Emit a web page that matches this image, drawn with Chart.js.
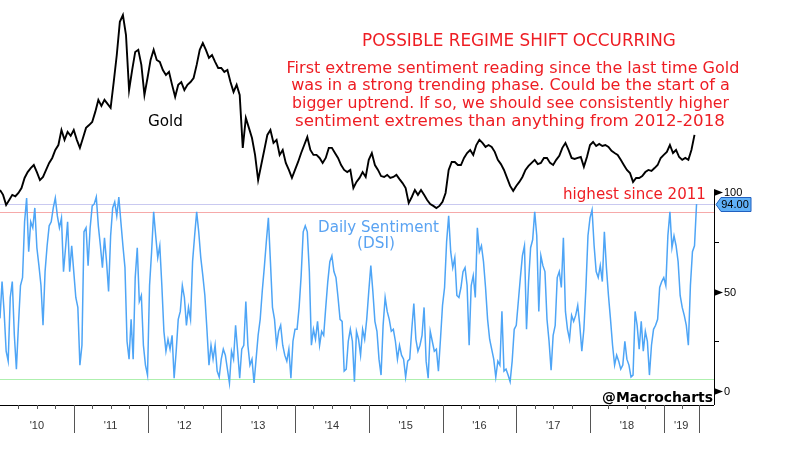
<!DOCTYPE html>
<html>
<head>
<meta charset="utf-8">
<script src="https://cdn.jsdelivr.net/npm/chart.js@4.4.1/dist/chart.umd.min.js"></script>
<style>
	html, body { margin: 0; padding: 0; background: #ffffff; }
</style>
</head>
<body>
<canvas id="grafico" width="800" height="450"></canvas>
<script>
// oro: dos lecturas por mes desde enero 2010
const goldStart = 2010;
const goldPerYear = 24;
const gold = [
	1147, 1126, 1083, 1104, 1126, 1120, 1134, 1155, 1198, 1223, 1240, 1253, 1223, 1189, 1202, 1232, 1262, 1283, 1317, 1338, 1402, 1360, 1394, 1377,
	1402, 1360, 1326, 1368, 1411, 1423, 1436, 1479, 1530, 1504, 1530, 1513, 1496, 1606, 1721, 1862, 1891, 1806, 1572, 1657, 1734, 1743, 1679, 1551,
	1623, 1700, 1743, 1700, 1692, 1657, 1636, 1649, 1594, 1543, 1594, 1606, 1572, 1594, 1606, 1623, 1679, 1743, 1772, 1743, 1709, 1721, 1692, 1666,
	1666, 1649, 1657, 1606, 1564, 1594, 1551, 1326, 1453, 1411, 1368, 1296, 1189, 1253, 1317, 1381, 1402, 1347, 1360, 1296, 1317, 1262, 1232, 1198,
	1232, 1266, 1304, 1338, 1372, 1317, 1296, 1296, 1283, 1262, 1283, 1326, 1326, 1304, 1283, 1253, 1232, 1223, 1232, 1155, 1181, 1198, 1223, 1202,
	1275, 1304, 1253, 1232, 1206, 1202, 1211, 1198, 1202, 1211, 1193, 1176, 1155, 1092, 1117, 1147, 1126, 1147, 1126, 1104, 1087, 1079, 1070, 1079,
	1096, 1134, 1232, 1266, 1266, 1253, 1253, 1283, 1304, 1317, 1296, 1338, 1360, 1347, 1330, 1338, 1330, 1309, 1275, 1257, 1232, 1198, 1164, 1143,
	1164, 1181, 1202, 1232, 1249, 1262, 1275, 1257, 1262, 1283, 1283, 1262, 1253, 1275, 1292, 1326, 1347, 1317, 1283, 1279, 1283, 1287, 1245, 1287,
	1338, 1351, 1334, 1343, 1334, 1338, 1330, 1313, 1304, 1296, 1275, 1253, 1232, 1219, 1181, 1198, 1198, 1206, 1223, 1232, 1228, 1240, 1253, 1283,
	1296, 1309, 1338, 1304, 1317, 1287, 1275, 1283, 1275, 1317, 1381,
];

// sentimiento diario (DSI): tres lecturas por mes
const dsiStart = 2010;
const dsiPerYear = 36;
const dsi = [
	36.5, 55, 40, 20, 15, 47, 55, 28, 11, 33, 53, 57,
	85, 97, 70, 85, 82, 92, 72, 63, 53, 33, 60, 73,
	83, 85, 92, 97, 88, 82, 87, 60, 72, 85, 60, 73,
	60, 47, 42, 13, 23, 80, 82, 63, 82, 93, 94, 97.5,
	83, 73, 62, 77, 65, 50, 78, 92, 95, 88, 97.5, 85,
	73, 62, 25, 16, 36, 16, 57, 72, 45, 48, 23, 13,
	8, 53, 70, 90, 78, 67, 73, 53, 30, 20, 26, 21,
	28, 6.4, 20, 36, 40, 53, 47, 33, 42, 36, 65, 78,
	90, 80, 67, 58, 48, 31, 13, 23, 16, 23, 10, 7,
	16, 21, 18, 11, 4, 20, 16, 33, 20, 6.4, 21, 23,
	45, 23, 13, 16, 4, 16, 28, 36, 50, 62, 75, 87,
	65, 42, 36, 23, 30, 33, 23, 18, 15, 21, 6.4, 25,
	31, 31, 42, 58, 80, 83, 80, 60, 23, 31, 26, 35,
	23, 30, 28, 42, 55, 65, 68, 60, 57, 47, 36, 35,
	10, 11, 25, 31, 25, 4.7, 30, 26, 18, 31, 26, 36,
	50, 63, 50, 35, 30, 16, 8, 33, 47, 40, 36, 30,
	31, 25, 16, 23, 18, 16, 7, 15, 16, 31, 44, 26,
	20, 23, 28, 42, 15, 6.4, 30, 25, 20, 21, 10, 26,
	43, 52, 75, 88, 70, 62, 67, 48, 47, 52, 60, 62,
	53, 23, 53, 58, 47, 82, 70, 73, 65, 52, 36, 26,
	21, 16, 7, 15, 13, 40, 10, 11, 8, 4.7, 15, 31,
	33, 45, 57, 68, 73, 31, 55, 72, 76, 90, 78, 40,
	68, 63, 60, 36, 25, 10.5, 28, 33, 57, 60, 52, 77,
	40, 31, 26, 38, 35, 38, 43, 33, 20, 31, 52, 78,
	87, 91, 73, 60, 57, 63, 55, 80, 62, 48, 36, 23,
	13, 18, 15, 11, 13, 25, 16, 13, 7, 8, 40, 33,
	21, 35, 20, 30, 25, 8, 23, 31, 33, 36, 52, 55,
	57, 53, 78, 90, 72, 78, 73, 65, 48, 42, 38, 33,
	23, 53, 70, 73, 94,
];

const yearStarts = [2010, 2011, 2012, 2013, 2014, 2015, 2016, 2017, 2018, 2019];
const yearLabels = ["'10", "'11", "'12", "'13", "'14", "'15", "'16", "'17", "'18", "'19"];
const dataEnd = 2019.475;
const dsiTicks = [0, 25, 50, 75, 100];
const dsiTickLabels = ["0", "", "50", "", "100"];
const dsiLevels = [94, 90, 6];
const dsiLevelColors = ["#c9c9f0", "#f6a9a9", "#aef0ae"];
const lastDsi = 94;

const rojo = "#ee1d23";
const fuente = '"DejaVu Sans"';

// texto centrado ajustado al ancho medido en la imagen
const texto = (ctx, t, cx, base, ancho, color, negrita) => {
	const peso = negrita ? "bold " : "";
	ctx.font = `${peso}20px ${fuente}`;
	const size = (20 * ancho) / ctx.measureText(t).width;
	ctx.font = `${peso}${size.toFixed(2)}px ${fuente}`;
	ctx.fillStyle = color;
	ctx.textAlign = "center";
	ctx.textBaseline = "alphabetic";
	ctx.fillText(t, cx, base);
};

const decorado = {
	id: "decorado",
	beforeDatasetsDraw(chart) {
		const { ctx, chartArea } = chart;
		const yd = chart.scales.yDsi;
		ctx.save();
		ctx.lineWidth = 1;
		dsiLevels.forEach((nivel, i) => {
			const y = Math.round(yd.getPixelForValue(nivel)) + 0.5;
			ctx.strokeStyle = dsiLevelColors[i];
			ctx.beginPath();
			ctx.moveTo(chartArea.left, y);
			ctx.lineTo(chartArea.right, y);
			ctx.stroke();
		});
		ctx.restore();
	},
	afterDraw(chart) {
		const { ctx, chartArea } = chart;
		const xs = chart.scales.x;
		const yd = chart.scales.yDsi;
		const fondo = chartArea.bottom;
		const der = chartArea.right;
		ctx.save();

		// eje x
		ctx.strokeStyle = "#000";
		ctx.lineWidth = 1;
		ctx.beginPath();
		ctx.moveTo(chartArea.left, fondo + 0.5);
		ctx.lineTo(der, fondo + 0.5);
		ctx.stroke();

		ctx.strokeStyle = "#555";
		yearStarts.forEach((anio) => {
			for (let q = 1; q < 4; q++) {
				if (anio + q / 4 > dataEnd) continue;
				const x = Math.round(xs.getPixelForValue(anio + q / 4)) + 0.5;
				ctx.beginPath();
				ctx.moveTo(x, fondo);
				ctx.lineTo(x, fondo + 4);
				ctx.stroke();
			}
		});
		const cortes = yearStarts.slice(1).concat([dataEnd]);
		cortes.forEach((v) => {
			const x = Math.round(xs.getPixelForValue(v)) + 0.5;
			ctx.beginPath();
			ctx.moveTo(x, fondo);
			ctx.lineTo(x, fondo + 28);
			ctx.stroke();
		});
		ctx.fillStyle = "#333";
		ctx.font = '11px "Liberation Sans"';
		ctx.textAlign = "center";
		ctx.textBaseline = "middle";
		yearLabels.forEach((etq, i) => {
			const a = xs.getPixelForValue(yearStarts[i]);
			const b = xs.getPixelForValue(i + 1 < yearStarts.length ? yearStarts[i + 1] : dataEnd);
			ctx.fillText(etq, (a + b) / 2, fondo + 21);
		});

		// eje DSI a la derecha
		const arriba = yd.getPixelForValue(100) - 2;
		ctx.strokeStyle = "#000";
		ctx.beginPath();
		ctx.moveTo(der + 0.5, arriba);
		ctx.lineTo(der + 0.5, fondo);
		ctx.stroke();
		ctx.fillStyle = "#000";
		ctx.textAlign = "left";
		dsiTicks.forEach((v, i) => {
			const y = Math.round(yd.getPixelForValue(v)) + 0.5;
			if (dsiTickLabels[i]) {
				ctx.beginPath();
				ctx.moveTo(der, y - 3.5);
				ctx.lineTo(der + 9, y);
				ctx.lineTo(der, y + 3.5);
				ctx.closePath();
				ctx.fill();
				ctx.fillText(dsiTickLabels[i], der + 10, y);
			} else {
				ctx.beginPath();
				ctx.moveTo(der, y);
				ctx.lineTo(der + 5, y);
				ctx.stroke();
			}
		});

		// etiqueta del ultimo valor
		const yl = Math.round(yd.getPixelForValue(lastDsi)) + 0.5;
		ctx.beginPath();
		ctx.moveTo(der + 2, yl);
		ctx.lineTo(der + 7, yl - 7);
		ctx.lineTo(der + 37, yl - 7);
		ctx.lineTo(der + 37, yl + 7);
		ctx.lineTo(der + 7, yl + 7);
		ctx.closePath();
		ctx.fillStyle = "#5fb0f7";
		ctx.fill();
		ctx.strokeStyle = "#2060c0";
		ctx.stroke();
		ctx.fillStyle = "#000";
		ctx.textAlign = "center";
		ctx.fillText(lastDsi.toFixed(2), der + 21, yl);

		// anotaciones
		texto(ctx, "POSSIBLE REGIME SHIFT OCCURRING", 519, 46, 314, rojo, false);
		texto(ctx, "First extreme sentiment reading since the last time Gold", 513, 72.5, 453, rojo, false);
		texto(ctx, "was in a strong trending phase. Could be the start of a", 510.5, 90, 439, rojo, false);
		texto(ctx, "bigger uptrend. If so, we should see consistently higher", 510.5, 108, 437, rojo, false);
		texto(ctx, "sentiment extremes than anything from 2012-2018", 510, 126, 430, rojo, false);
		texto(ctx, "Gold", 165.5, 126, 35, "#000", false);
		texto(ctx, "Daily Sentiment", 378.5, 232, 121, "#5aa3f2", false);
		texto(ctx, "(DSI)", 376, 248, 38, "#5aa3f2", false);
		texto(ctx, "highest since 2011", 634.5, 199, 143, rojo, false);
		texto(ctx, "@Macrocharts", 657.5, 402, 111, "#000", true);

		ctx.restore();
	},
};

const grafico = () => {
	const data = {
		datasets: [
			{
				label: "Gold",
				data: gold.map((v, i) => ({ x: goldStart + i / goldPerYear, y: v })),
				yAxisID: "yGold",
				borderColor: "#000000",
				borderWidth: 1.9,
				pointRadius: 0,
				tension: 0,
			},
			{
				label: "Daily Sentiment (DSI)",
				data: dsi.map((v, i) => ({ x: dsiStart + i / dsiPerYear, y: v })),
				yAxisID: "yDsi",
				borderColor: "#4ea5f6",
				borderWidth: 1.5,
				pointRadius: 0,
				tension: 0,
			},
		],
	};

	const config = {
		type: "line",
		data,
		options: {
			responsive: false,
			animation: false,
			layout: { padding: { left: 0, top: 0, right: 86, bottom: 45 } },
			plugins: {
				legend: { display: false },
				tooltip: { enabled: false },
			},
			scales: {
				x: { type: "linear", display: false, min: 2010, max: 2019.681 },
				yGold: { type: "linear", display: false, min: 232, max: 1955 },
				yDsi: { type: "linear", display: false, min: -7.04, max: 196.5 },
			},
		},
		plugins: [decorado],
	};

	new Chart(document.getElementById("grafico"), config);
};
grafico();
</script>
</body>
</html>
